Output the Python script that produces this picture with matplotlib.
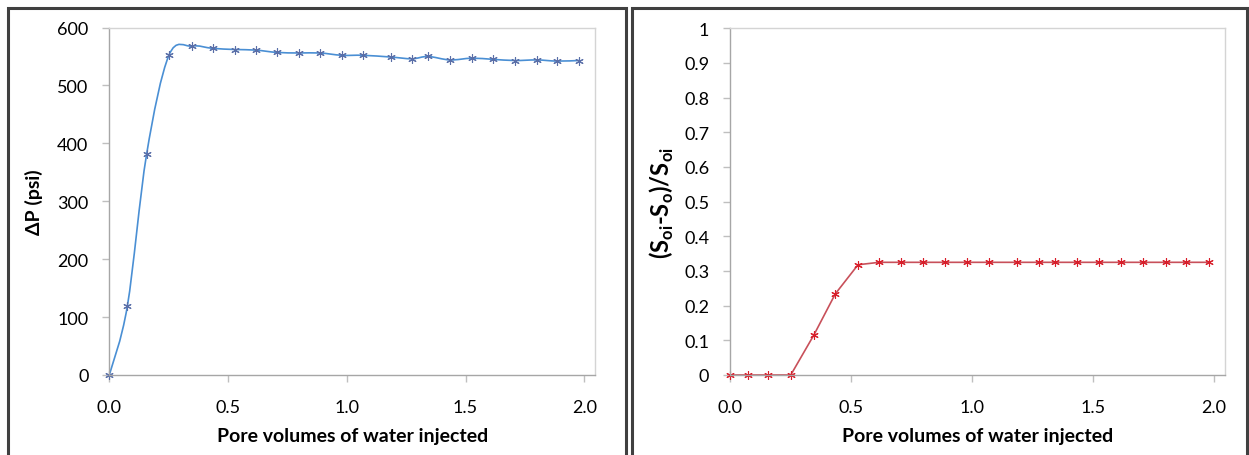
import matplotlib
matplotlib.use("Agg")
import matplotlib.pyplot as plt
from matplotlib.path import Path
from matplotlib.patches import PathPatch, Rectangle
from matplotlib.ticker import FuncFormatter

plt.rcParams['font.family'] = ['Lato', 'DejaVu Sans']
plt.rcParams['mathtext.fontset'] = 'custom'
plt.rcParams['mathtext.rm'] = 'Lato'
plt.rcParams['mathtext.bf'] = 'Lato:bold'

# pore volumes injected (same for both panels)
pv = [0.0, 0.076, 0.157, 0.251, 0.347, 0.435, 0.529, 0.616, 0.705, 0.799, 0.887,
      0.979, 1.068, 1.185, 1.275, 1.342, 1.434, 1.526, 1.615, 1.708, 1.800, 1.885, 1.978]
dp = [0, 119, 381, 552, 568, 564, 562, 561, 557, 556, 556,
      552, 552, 549, 546, 550, 544, 547, 545, 543, 544, 542, 543]
recov = [0, 0, 0, 0, 0.116, 0.234, 0.318, 0.325, 0.325, 0.325, 0.325,
         0.325, 0.325, 0.325, 0.325, 0.325, 0.325, 0.325, 0.325, 0.325, 0.325, 0.325, 0.325]

x_ticks = [0.0, 0.5, 1.0, 1.5, 2.0]
dp_ticks = [0, 100, 200, 300, 400, 500, 600]
rec_ticks = [0, 0.1, 0.2, 0.3, 0.4, 0.5, 0.6, 0.7, 0.8, 0.9, 1.0]

W, H = 1249, 456
fig = plt.figure(figsize=(W / 100, H / 100), dpi=100)

# chart-area frames
for x0, x1 in [(8, 626), (632, 1247)]:
    fig.patches.append(Rectangle((x0 / W, -0.05), (x1 - x0) / W, 1.05 - 9 / H,
                                 transform=fig.transFigure, fill=False,
                                 edgecolor='#404040', linewidth=2.2, zorder=0))


def smooth_path(xs, ys):
    # excel-like smoothed line, catmull-rom as cubic bezier
    verts = [(xs[0], ys[0])]
    codes = [Path.MOVETO]
    n = len(xs)
    for i in range(n - 1):
        xa, ya = (xs[i - 1], ys[i - 1]) if i > 0 else (xs[i], ys[i])
        xd, yd = (xs[i + 2], ys[i + 2]) if i + 2 < n else (xs[i + 1], ys[i + 1])
        c1 = (xs[i] + (xs[i + 1] - xa) / 6, ys[i] + (ys[i + 1] - ya) / 6)
        c2 = (xs[i + 1] - (xd - xs[i]) / 6, ys[i + 1] - (yd - ys[i]) / 6)
        verts += [c1, c2, (xs[i + 1], ys[i + 1])]
        codes += [Path.CURVE4] * 3
    return Path(verts, codes)


def style(ax, ymax, yticks):
    ax.set_xlim(0, 2.045)
    ax.set_ylim(0, ymax)
    ax.set_xticks(x_ticks)
    ax.set_yticks(yticks)
    ax.xaxis.set_major_formatter(FuncFormatter(lambda v, p: f"{v:.1f}"))
    for s in ['top', 'right']:
        ax.spines[s].set_color('#d4d4d4')
    for s in ['left', 'bottom']:
        ax.spines[s].set_color('#a6a6a6')
    for s in ax.spines.values():
        s.set_linewidth(1.0)
    ax.tick_params(axis='both', direction='out', length=5, width=1,
                   color='#bfbfbf', labelsize=13, labelcolor='#000000')
    ax.tick_params(axis='y', pad=10)
    ax.tick_params(axis='x', pad=12)
    ax.set_xlabel('Pore volumes of water injected', fontsize=14, fontweight='bold', labelpad=9)


star = (6, 2, 0)

ax1 = fig.add_axes([109.3 / W, 1 - 376 / H, (595 - 109.3) / W, (376 - 28.5) / H])
style(ax1, 600, dp_ticks)
ax1.add_patch(PathPatch(smooth_path(pv, dp), fill=False, edgecolor='#4a8fd4', linewidth=1.2))
ax1.plot(pv, dp, linestyle='none', marker=star, markersize=6, markeredgewidth=0.8,
         color='#5a6fa8', clip_on=False)
ax1.set_ylabel('ΔP (psi)', fontsize=14, fontweight='bold', labelpad=10)

ax2 = fig.add_axes([730 / W, 1 - 376 / H, (1225 - 730) / W, (376 - 29.3) / H])
style(ax2, 1.0, rec_ticks)
ax2.yaxis.set_major_formatter(FuncFormatter(lambda v, p: f"{v:g}"))
ax2.plot(pv, recov, color='#c8505a', linewidth=1.2)
ax2.plot(pv, recov, linestyle='none', marker=star, markersize=6, markeredgewidth=0.8,
         color='#d81e2a', clip_on=False)
ax2.set_ylabel(r'(S$_\mathbf{oi}$-S$_\mathbf{o}$)/S$_\mathbf{oi}$', fontsize=17,
               fontweight='bold', labelpad=6)

fig.savefig('out.png', dpi=100)
